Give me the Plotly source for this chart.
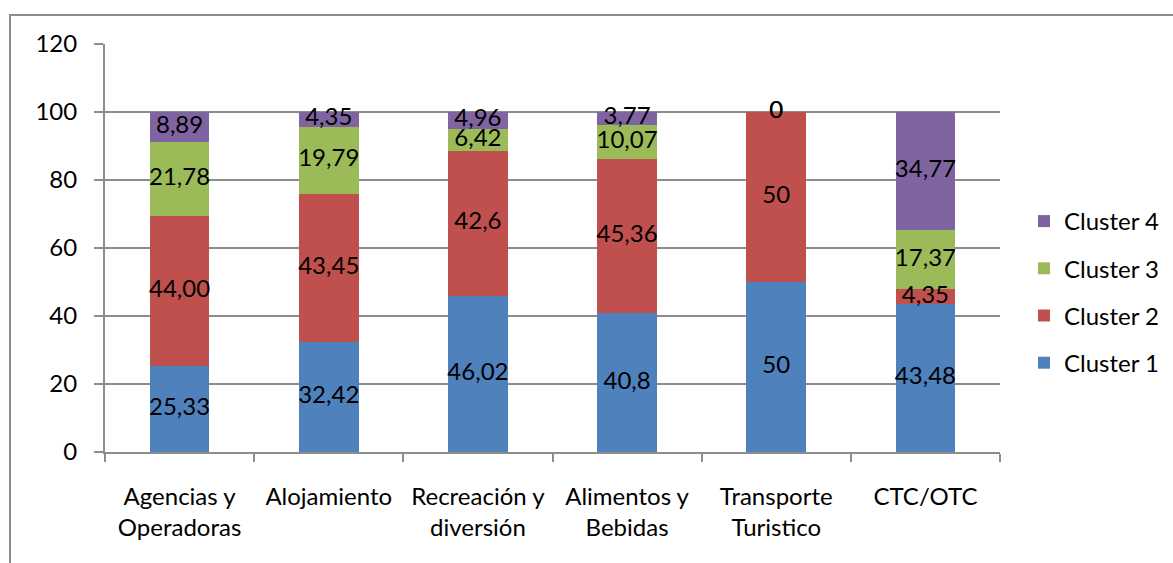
import plotly.graph_objects as go

categories = ["Agencias y<br>Operadoras", "Alojamiento", "Recreación y<br>diversión",
              "Alimentos y<br>Bebidas", "Transporte<br>Turistico", "CTC/OTC"]
series_names = ["Cluster 1", "Cluster 2", "Cluster 3", "Cluster 4"]
cluster1 = [25.33, 32.42, 46.02, 40.8, 50, 43.48]
cluster2 = [44.00, 43.45, 42.6, 45.36, 50, 4.35]
cluster3 = [21.78, 19.79, 6.42, 10.07, 0, 17.37]
cluster4 = [8.89, 4.35, 4.96, 3.77, 0, 34.77]
labels1 = ["25,33", "32,42", "46,02", "40,8", "50", "43,48"]
labels2 = ["44,00", "43,45", "42,6", "45,36", "50", "4,35"]
labels3 = ["21,78", "19,79", "6,42", "10,07", "0", "17,37"]
labels4 = ["8,89", "4,35", "4,96", "3,77", "0", "34,77"]
y_ticks = [0, 20, 40, 60, 80, 100, 120]

colors = ["#4F81BD", "#C0504D", "#9BBB59", "#8064A2"]
FONT = "Lato"
FS = 24

series = [cluster1, cluster2, cluster3, cluster4]
label_sets = [labels1, labels2, labels3, labels4]

fig = go.Figure()
for i, (name, vals) in enumerate(zip(series_names, series)):
    fig.add_trace(go.Bar(
        x=categories, y=vals, name=name, marker=dict(color=colors[i], line=dict(width=0)),
        legendgroup=name, legendrank=10 - i, showlegend=True, hoverinfo="skip",
    ))

# label centers computed from data
base = [0] * len(categories)
for i, (vals, labs) in enumerate(zip(series, label_sets)):
    centers = [b + v / 2 for b, v in zip(base, vals)]
    fig.add_trace(go.Scatter(
        x=categories, y=centers, mode="text", text=labs,
        textfont=dict(family=FONT, size=FS, color="black"),
        textposition="middle center", showlegend=False, cliponaxis=False, hoverinfo="skip",
    ))
    base = [b + v for b, v in zip(base, vals)]

W, H = 1173, 563
L, R, T, B = 105, 173, 44, 111
pw, ph = W - L - R, H - T - B

def px_x(p):
    return (p - L) / pw

def px_y(p):
    return (H - B - p) / ph

fig.add_shape(type="rect", xref="paper", yref="paper",
              x0=px_x(10), x1=px_x(1185), y0=px_y(15), y1=px_y(580),
              line=dict(color="#8c8c8c", width=2), fillcolor="rgba(0,0,0,0)", layer="below")

fig.update_layout(
    width=W, height=H, barmode="stack", bargap=0.6,
    margin=dict(l=L, r=R, t=T, b=B, autoexpand=False),
    paper_bgcolor="white", plot_bgcolor="white",
    font=dict(family=FONT, size=FS, color="black"),
    legend=dict(x=px_x(1024), xanchor="left", y=px_y(199), yanchor="top",
                traceorder="grouped", tracegroupgap=13,
                font=dict(family=FONT, size=FS, color="black"),
                itemwidth=30, bgcolor="rgba(0,0,0,0)"),
    showlegend=True,
)
fig.update_xaxes(
    showline=True, linecolor="#8c8c8c", linewidth=2,
    ticks="outside", tickson="boundaries", ticklen=8, tickcolor="#8c8c8c", tickwidth=2,
    showgrid=False, tickfont=dict(family=FONT, size=FS, color="black"), ticklabelstandoff=22,
)
fig.update_yaxes(
    range=[0, 120], tickvals=y_ticks, showline=True, linecolor="#8c8c8c", linewidth=2,
    ticks="outside", ticklen=9, tickcolor="#8c8c8c", tickwidth=2,
    showgrid=True, gridcolor="#8c8c8c", gridwidth=2, zeroline=False,
    tickfont=dict(family=FONT, size=FS, color="black"), ticklabelstandoff=12,
)

fig.write_html("out.html")
